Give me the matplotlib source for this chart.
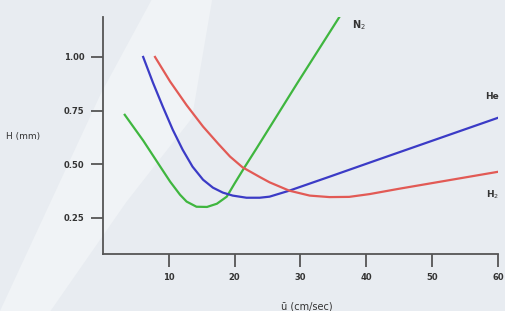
import matplotlib
matplotlib.use("Agg")
import matplotlib.pyplot as plt
from matplotlib.patches import Polygon

# values
n2_x = [3.3, 6.1, 8.7, 10.2, 11.7, 12.7, 14.2, 15.8, 17.3, 18.8, 20.0, 21.5, 23.3, 29.5, 35.9]
n2_y = [0.73, 0.61, 0.488, 0.418, 0.357, 0.325, 0.301, 0.30, 0.315, 0.348, 0.410, 0.485, 0.572, 0.877, 1.186]

he_x = [6.1, 7.6, 9.1, 10.6, 12.1, 13.6, 15.2, 16.7, 18.2, 19.7, 21.8, 23.8, 25.3, 28.3, 34.4, 42.0, 60.0]
he_y = [1.0, 0.879, 0.767, 0.66, 0.567, 0.488, 0.427, 0.39, 0.367, 0.353, 0.343, 0.343, 0.348, 0.376,
        0.441, 0.523, 0.716]

h2_x = [7.9, 10.2, 12.7, 15.2, 17.5, 19.3, 21.2, 23.8, 25.3, 28.3, 31.4, 34.4, 37.4, 40.5, 45.0, 60.0]
h2_y = [1.0, 0.885, 0.775, 0.675, 0.595, 0.535, 0.485, 0.44, 0.415, 0.376, 0.353, 0.346, 0.347, 0.36,
        0.385, 0.464]

x_ticks = [10, 20, 30, 40, 50, 60]
y_ticks = [0.25, 0.50, 0.75, 1.00]

fig = plt.figure(figsize=(5.05, 3.11), dpi=100)
fig.patch.set_facecolor("#e8ecf1")

# faint lighter swoosh on the left side of the background
swoosh = Polygon([(0.0, 0.0), (0.10, 0.0), (0.25, 0.35), (0.38, 0.62), (0.42, 1.0),
                  (0.30, 1.0), (0.20, 0.70), (0.10, 0.35)],
                 closed=True, transform=fig.transFigure, facecolor="#f0f3f6",
                 edgecolor="none", zorder=-1)
fig.patches.append(swoosh)

ax = fig.add_axes([0.204, 0.183, 0.782, 0.762])
ax.patch.set_alpha(0)

ax.plot(n2_x, n2_y, color="#3fb63f", lw=1.6)
ax.plot(he_x, he_y, color="#3b3bc6", lw=1.6)
ax.plot(h2_x, h2_y, color="#e25a55", lw=1.6)

ax.text(38.9, 1.15, "N$_2$", fontsize=7, color="#333333", ha="center", va="center", fontweight="bold")
ax.text(59.1, 0.814, "He", fontsize=6.5, color="#333333", ha="center", va="center", fontweight="bold")
ax.text(59.2, 0.355, "H$_2$", fontsize=6.5, color="#333333", ha="center", va="center",
        fontweight="bold", clip_on=False)

ax.set_xlim(0, 60)
ax.set_ylim(0.08, 1.186)
ax.set_xticks(x_ticks)
ax.set_yticks(y_ticks)
ax.set_xticklabels([str(v) for v in x_ticks])
ax.set_yticklabels(["%.2f" % v for v in y_ticks])

for s in ["top", "right"]:
    ax.spines[s].set_visible(False)
for s in ["left", "bottom"]:
    ax.spines[s].set_color("#555555")
    ax.spines[s].set_linewidth(1.3)

ax.tick_params(axis="both", direction="out", length=9, width=1.3, color="#555555",
               labelsize=6, labelcolor="#333333", pad=4.5)
for lab in ax.get_xticklabels() + ax.get_yticklabels():
    lab.set_fontweight("bold")

fig.text(0.046, 0.56, "H (mm)", fontsize=6.5, color="#333333", ha="center", va="center")
fig.text(0.608, 0.013, "ū (cm/sec)", fontsize=7, color="#333333", ha="center", va="center")

fig.savefig("out.png", dpi=100, facecolor=fig.get_facecolor())
